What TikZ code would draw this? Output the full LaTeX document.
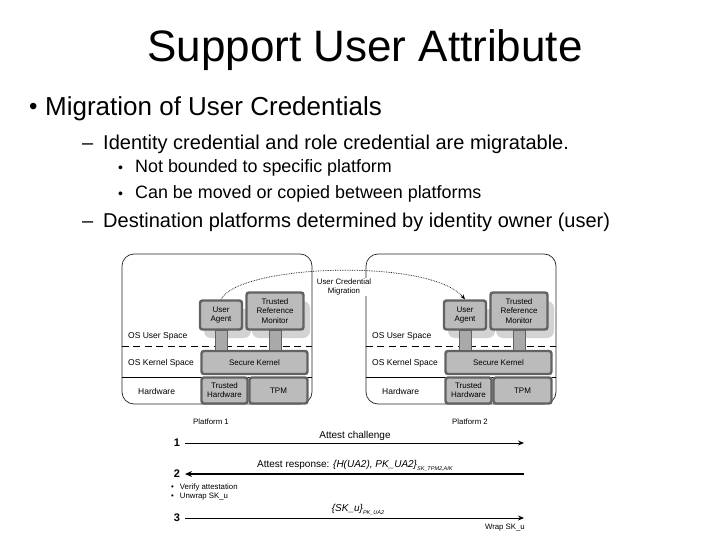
\documentclass[tikz,border=0pt]{standalone}
\usepackage{fontspec}
\setmainfont{Liberation Sans}
\usetikzlibrary{arrows.meta}
\definecolor{boxfill}{HTML}{BBBBBB}
\definecolor{boxedge}{HTML}{626262}
\definecolor{shadowc}{HTML}{D3D3D3}
\definecolor{stubfill}{HTML}{A9A9A9}
\tikzset{
  platbox/.style={draw=black!85, line width=0.7pt, rounded corners=12pt, inner sep=0pt},
  compbox/.style={draw=boxedge, fill=boxfill, line width=2.4pt, rounded corners=2.5pt, inner sep=0pt, align=center, font=\fontsize{8}{9.2}\selectfont, text=black},
  stubbar/.style={draw=boxedge, fill=stubfill, line width=0.6pt},
  blob/.style={fill=shadowc, rounded corners=7pt},
  layerlbl/.style={anchor=west, inner sep=0pt, font=\fontsize{8.5}{9.5}\selectfont, text=black},
  seqline/.style={line width=0.8pt},
  seqarrow/.style={-{Stealth[length=6pt,width=5pt]}},
  seqlbl/.style={inner sep=0pt, font=\fontsize{10}{11}\selectfont},
  smalllbl/.style={inner sep=0pt, font=\fontsize{7.8}{9}\selectfont},
  numlbl/.style={inner sep=0pt, font=\bfseries\fontsize{11}{12}\selectfont},
  txt/.style={anchor=base west, inner sep=0pt}
}
\newcommand\drawplatform[2]{%
\begin{scope}[xshift=#2]
  \fill[blob] (204,309) rectangle (251,338);
  \fill[blob] (252,301) rectangle (310,338);
  \node[platbox, minimum width=190pt, minimum height=150pt] (#1plat) at (217,329) {};
  \draw[line width=0.7pt, dash pattern=on 7pt off 4.5pt] (#1plat.west |- 0,346) coordinate (#1dl) -- (#1plat.east |- 0,346) coordinate (#1dr);
  \draw[line width=0.7pt] (#1plat.west |- 0,377) coordinate (#1sl) -- (#1plat.east |- 0,377) coordinate (#1sr);
  \node[layerlbl] (#1lus) at (128,336) {OS User Space};
  \node[layerlbl] (#1lks) at (128,363) {OS Kernel Space};
  \node[layerlbl] (#1lhw) at (138,391) {Hardware};
  \node[compbox, minimum width=42pt, minimum height=29pt] (#1ua) at (221,315) {User\\Agent};
  \node[compbox, minimum width=57pt, minimum height=37pt] (#1trm) at (275,311) {Trusted\\Reference\\Monitor};
  \node[compbox, minimum width=106pt, minimum height=23pt] (#1sk) at (254.5,362.5) {Secure Kernel};
  \node[compbox, minimum width=46pt, minimum height=26pt] (#1th) at (224.5,390.5) {Trusted\\Hardware};
  \node[compbox, minimum width=58pt, minimum height=26pt] (#1tpm) at (278.5,390.5) {TPM};
  \draw[stubbar] ([xshift=-6pt]#1ua.south) rectangle ([xshift=6pt]#1ua.south |- #1sk.north);
  \draw[stubbar] ([xshift=-6pt]#1trm.south) rectangle ([xshift=6pt]#1trm.south |- #1sk.north);
\end{scope}}
\begin{document}
\begin{tikzpicture}[x=1pt,y=-1pt]
\useasboundingbox[fill=white] (0,0) rectangle (720,540);
% title and bullets
\node[anchor=base, inner sep=0pt, font=\fontsize{44}{50}\selectfont] (title) at (365,62) {Support User Attribute};
\node[txt, font=\fontsize{24}{28}\selectfont] (b1) at (29,115) {•};
\node[txt, font=\fontsize{26}{30}\selectfont] (t1) at (45,116) {Migration of User Credentials};
\node[txt, font=\fontsize{20}{24}\selectfont] (d2) at (82,150) {–};
\node[txt, font=\fontsize{20}{24}\selectfont] (t2) at (103,150) {Identity credential and role credential are migratable.};
\node[txt, font=\fontsize{14}{17}\selectfont] (b3) at (118,173) {•};
\node[txt, font=\fontsize{17.9}{20}\selectfont] (t3) at (135,173) {Not bounded to specific platform};
\node[txt, font=\fontsize{14}{17}\selectfont] (b4) at (118,199) {•};
\node[txt, font=\fontsize{17.9}{20}\selectfont] (t4) at (135,199) {Can be moved or copied between platforms};
\node[txt, font=\fontsize{20}{24}\selectfont] (d5) at (82,227) {–};
\node[txt, font=\fontsize{20}{24}\selectfont] (t5) at (103,227) {Destination platforms determined by identity owner (user)};
% platforms
\drawplatform{a}{0pt}
\drawplatform{b}{244pt}
% migration arc
\draw[densely dotted, line width=0.7pt, -{Stealth[length=5pt,width=4pt]}] (aua.north) .. controls (240,264) and (430,258) .. (bua.north);
\node[smalllbl, align=center, fill=white, inner sep=0.5pt] (mig) at (344,287) {User Credential\\Migration};
% sequence
\node[smalllbl] (pl1) at (211,422) {Platform 1};
\node[smalllbl] (pl2) at (470,422) {Platform 2};
\node[numlbl] (n1) at (177,443) {1};
\node[numlbl] (n2) at (177,474) {2};
\node[numlbl] (n3) at (177,518) {3};
\coordinate (s1) at (185,443); \coordinate (e1) at (524,443);
\coordinate (s2) at (185,474); \coordinate (e2) at (524,474);
\coordinate (s3) at (185,518); \coordinate (e3) at (524,518);
\draw[seqline, seqarrow] (s1) -- (e1);
\draw[line width=2pt, -{Stealth[length=7pt,width=6pt]}] (e2) -- (s2);
\draw[seqline, seqarrow] (s3) -- (e3);
\node[seqlbl, anchor=south] (m1) at (355,440.5) {Attest challenge};
\node[seqlbl, anchor=south west] (m2) at (257,471) {Attest response: \itshape\{H(UA2), PK\_UA2\}\raisebox{-2.5pt}{\fontsize{5.5}{6}\selectfont SK\_TPM2,AIK}};
\node[seqlbl, anchor=south] (m3) at (358,515) {\itshape\{SK\_u\}\raisebox{-2.5pt}{\fontsize{5.5}{6}\selectfont PK\_UA2}};
\node[smalllbl, anchor=west] (v1) at (171,487) {•\hspace{6pt}Verify attestation};
\node[smalllbl, anchor=west] (v2) at (171,497) {•\hspace{6pt}Unwrap SK\_u};
\node[smalllbl, anchor=north east] (w1) at (525,524) {Wrap SK\_u};
\end{tikzpicture}
\end{document}
